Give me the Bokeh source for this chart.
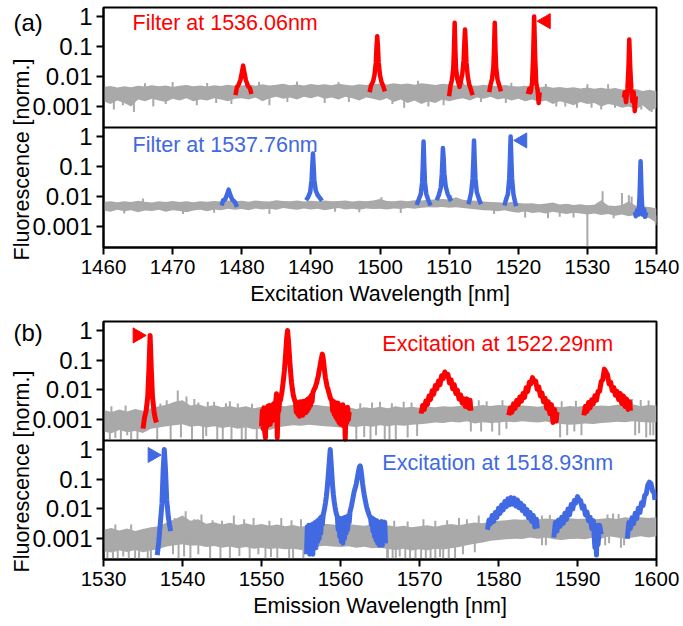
import numpy as np
from bokeh.plotting import figure
from bokeh.models import Range1d, LogScale, FixedTicker, CustomJSTickFormatter, Span, Label, GridBox
from bokeh.layouts import column
from bokeh.embed import file_html
from bokeh.resources import INLINE

GRAY = "#a9a9a9"
RED = "#ff0000"
BLUE = "#4169e1"
FONT = "Liberation Sans"
FS_XTICK = "20.5px"
FS_YTICK = "24px"
FS_TEXT = "21.5px"
FS_LETTER = "24px"

# ======================= panel (a): excitation spectra =======================
exc_ticks = [1460, 1470, 1480, 1490, 1500, 1510, 1520, 1530, 1540]
exc_grid = np.arange(1460, 1541)  # 1 nm sampling of the background envelope

# filter at 1536.06 nm (red) - background band
a1_hi = [0.0045, 0.0048, 0.0043, 0.0047, 0.0044,
         0.0049, 0.0046, 0.0051, 0.0047, 0.0050, 0.0045, 0.0049, 0.0052, 0.0047, 0.0050, 0.0046, 0.0051, 0.0048, 0.0053, 0.0049,
         0.0050, 0.0054, 0.0049, 0.0055, 0.0050, 0.0053, 0.0057, 0.0051, 0.0054, 0.0050, 0.0056, 0.0052, 0.0055, 0.0051, 0.0057, 0.0053, 0.0050, 0.0055, 0.0052,
         0.0055, 0.0058, 0.0054, 0.0060, 0.0055, 0.0058, 0.0053, 0.0059, 0.0056, 0.0052, 0.0057, 0.0054,
         0.0050, 0.0055, 0.0051, 0.0049, 0.0053, 0.0050, 0.0047, 0.0052, 0.0048, 0.0046,
         0.0049, 0.0045, 0.0043, 0.0047, 0.0042, 0.0045, 0.0041, 0.0044, 0.0040, 0.0043, 0.0039, 0.0042, 0.0038, 0.0041, 0.0037,
         0.0035, 0.0038, 0.0033, 0.0036, 0.0032]
a1_lo = [0.0015, 0.0012, 0.0016, 0.0013, 0.0010,
         0.0017, 0.0015, 0.0018, 0.0016, 0.0014, 0.0018, 0.0016, 0.0019, 0.0015, 0.0017, 0.0016, 0.0019, 0.0017, 0.0015, 0.0018,
         0.0019, 0.0017, 0.0020, 0.0015, 0.0019, 0.0021, 0.0018, 0.0020, 0.0017, 0.0021, 0.0019, 0.0022, 0.0018, 0.0020, 0.0017, 0.0021, 0.0019, 0.0016, 0.0020,
         0.0018, 0.0016, 0.0019, 0.0014, 0.0017, 0.0013, 0.0016, 0.0012, 0.0015, 0.0013, 0.0017, 0.0015,
         0.0017, 0.0019, 0.0016, 0.0020, 0.0018, 0.0021, 0.0017, 0.0019, 0.0016, 0.0018,
         0.0015, 0.0017, 0.0014, 0.0016, 0.0012, 0.0015, 0.0013, 0.0011, 0.0014, 0.0012, 0.0013, 0.0010, 0.0012, 0.0011, 0.0009,
         0.0010, 0.0008, 0.0011, 0.0007, 0.0009]
a1_spike_x = [1461.5, 1464.4, 1467.2, 1473.5, 1478.5, 1484.0, 1492.0, 1503.5, 1507.0, 1525.5, 1528.5, 1532.0, 1534.0, 1539.3,
              1462.8, 1469.0, 1476.3, 1486.6, 1495.5, 1501.8, 1509.2, 1514.6, 1518.2, 1526.8, 1530.6, 1537.8,
              1470.0, 1488.0, 1505.5, 1519.0, 1530.0, 1533.0, 1466.0, 1475.0, 1482.5, 1494.0, 1512.0, 1524.0]
a1_spike_y = [0.0008, 0.00066, 0.0010, 0.0011, 0.0012, 0.0011, 0.0013, 0.0009, 0.0010, 0.0010, 0.0009, 0.0008, 0.0009, 0.00065,
              0.0011, 0.0012, 0.0013, 0.0014, 0.0014, 0.0012, 0.0011, 0.0014, 0.0013, 0.0010, 0.0009, 0.0008,
              0.0065, 0.0068, 0.0072, 0.0062, 0.0055, 0.0055, 0.0060, 0.0061, 0.0065, 0.0066, 0.0062, 0.0056]
a1_peaks = [
    ([1479.1, 1479.3, 1479.5, 1479.8, 1480.0, 1480.2, 1480.4, 1480.6, 1480.9, 1481.2, 1481.4],
     [0.0024, 0.0045, 0.0050, 0.0075, 0.013, 0.023, 0.013, 0.0075, 0.0048, 0.0040, 0.0026]),
    ([1498.5, 1498.7, 1499.0, 1499.2, 1499.4, 1499.5, 1499.6, 1499.7, 1499.8, 1500.0, 1500.2, 1500.5, 1500.7],
     [0.0030, 0.0050, 0.0068, 0.011, 0.030, 0.10, 0.22, 0.10, 0.030, 0.011, 0.0068, 0.0045, 0.0032]),
    ([1510.0, 1510.2, 1510.4, 1510.6, 1510.7, 1510.8, 1510.9, 1511.0, 1511.2, 1511.5, 1511.7, 1511.9, 1512.1, 1512.2,
      1512.3, 1512.4, 1512.5, 1512.7, 1512.9, 1513.1, 1513.4],
     [0.0022, 0.0050, 0.0075, 0.018, 0.08, 0.62, 0.08, 0.018, 0.008, 0.0045, 0.0070, 0.012, 0.035, 0.12,
      0.37, 0.12, 0.030, 0.010, 0.0055, 0.0040, 0.0024]),
    ([1515.8, 1516.0, 1516.2, 1516.4, 1516.5, 1516.6, 1516.7, 1516.8, 1517.0, 1517.2, 1517.5],
     [0.0030, 0.0055, 0.0080, 0.02, 0.08, 0.62, 0.08, 0.02, 0.0080, 0.0055, 0.0032]),
    ([1521.4, 1521.6, 1521.8, 1522.0, 1522.15, 1522.3, 1522.45, 1522.6, 1522.8, 1522.95, 1523.1],
     [0.0026, 0.0040, 0.0030, 0.0060, 0.04, 1.0, 0.04, 0.0060, 0.0035, 0.0013, 0.0030]),
    ([1535.3, 1535.4, 1535.6, 1535.8, 1535.95, 1536.06, 1536.2, 1536.35, 1536.5, 1536.7, 1536.85, 1537.0],
     [0.0020, 0.0030, 0.0014, 0.0040, 0.02, 0.17, 0.02, 0.0040, 0.0015, 0.0030, 0.00070, 0.0022]),
]
a1_marker = (1524.0, 0.70)

# filter at 1537.76 nm (blue) - background band
a2_hi = [0.0066, 0.0070, 0.0064, 0.0069, 0.0065, 0.0072, 0.0067, 0.0063, 0.0070, 0.0066, 0.0071, 0.0065, 0.0069, 0.0064, 0.0070, 0.0067,
         0.0071, 0.0068, 0.0073, 0.0069, 0.0072, 0.0067, 0.0074, 0.0070, 0.0068, 0.0075, 0.0071, 0.0069, 0.0073, 0.0068, 0.0072, 0.0070,
         0.0074, 0.0069, 0.0071, 0.0073, 0.0068, 0.0072, 0.0070, 0.0074, 0.0082,
         0.0071, 0.0069, 0.0073, 0.0070, 0.0075, 0.0074, 0.0078, 0.0080, 0.0083, 0.0079, 0.0095, 0.0078, 0.0074, 0.0072, 0.0068,
         0.0066, 0.0064, 0.0062, 0.0065, 0.0061, 0.0058, 0.0060, 0.0055, 0.0058, 0.0063, 0.0054, 0.0057, 0.0052, 0.0055, 0.0051,
         0.0053, 0.0075, 0.0050, 0.0048, 0.0052, 0.0070, 0.0049, 0.0046, 0.0045, 0.0040]
a2_lo = [0.0034, 0.0031, 0.0036, 0.0032, 0.0035, 0.0030, 0.0034, 0.0033, 0.0036, 0.0031, 0.0035, 0.0033, 0.0030, 0.0034, 0.0036, 0.0032,
         0.0037, 0.0035, 0.0039, 0.0036, 0.0038, 0.0035, 0.0040, 0.0037, 0.0039, 0.0036, 0.0041, 0.0038, 0.0036, 0.0040, 0.0037, 0.0039,
         0.0035, 0.0038, 0.0041, 0.0037, 0.0039, 0.0036, 0.0040, 0.0038, 0.0039,
         0.0037, 0.0040, 0.0038, 0.0041, 0.0039, 0.0042, 0.0044, 0.0043, 0.0045, 0.0042, 0.0044, 0.0041, 0.0039, 0.0037, 0.0035,
         0.0034, 0.0032, 0.0035, 0.0031, 0.0029, 0.0032, 0.0028, 0.0030, 0.0027, 0.0031, 0.0028, 0.0026, 0.0029, 0.0027, 0.0025,
         0.0027, 0.0024, 0.0026, 0.0023, 0.0025, 0.0022, 0.0024, 0.0021, 0.0019, 0.0013]
a2_spike_x = [1530.0, 1532.2, 1535.0, 1536.0, 1536.4, 1500.2, 1510.3, 1465.7, 1484.0, 1503.0, 1521.0, 1524.3, 1539.9,
              1463.0, 1471.5, 1476.0, 1493.5, 1497.0, 1516.5, 1526.0, 1528.0, 1533.8]
a2_spike_y = [0.0001, 0.015, 0.013, 0.011, 0.010, 0.0095, 0.011, 0.0085, 0.0026, 0.0028, 0.0020, 0.0019, 0.0011,
              0.0027, 0.0026, 0.0029, 0.0031, 0.0030, 0.0026, 0.0021, 0.0020, 0.0019]
a2_peaks = [
    ([1477.1, 1477.3, 1477.6, 1477.9, 1478.1, 1478.3, 1478.6, 1478.9, 1479.1, 1479.3],
     [0.0050, 0.0075, 0.0080, 0.012, 0.017, 0.012, 0.0080, 0.0070, 0.0060, 0.0045]),
    ([1489.3, 1489.6, 1489.9, 1490.1, 1490.2, 1490.3, 1490.4, 1490.5, 1490.7, 1491.0, 1491.3, 1491.6],
     [0.0075, 0.0095, 0.014, 0.035, 0.10, 0.27, 0.10, 0.035, 0.016, 0.011, 0.0090, 0.0072]),
    ([1505.3, 1505.6, 1505.9, 1506.1, 1506.2, 1506.3, 1506.4, 1506.5, 1506.7, 1507.0, 1507.3],
     [0.0052, 0.0080, 0.012, 0.03, 0.12, 0.68, 0.12, 0.03, 0.012, 0.0075, 0.0050]),
    ([1508.2, 1508.5, 1508.8, 1508.95, 1509.05, 1509.1, 1509.2, 1509.3, 1509.5, 1509.8, 1510.1, 1510.3],
     [0.0075, 0.011, 0.02, 0.06, 0.20, 0.41, 0.20, 0.06, 0.022, 0.012, 0.0085, 0.0070]),
    ([1512.8, 1513.0, 1513.2, 1513.4, 1513.5, 1513.6, 1513.7, 1513.8, 1514.0, 1514.3, 1514.6],
     [0.0055, 0.0085, 0.014, 0.04, 0.15, 0.74, 0.15, 0.04, 0.014, 0.0085, 0.0055]),
    ([1518.0, 1518.2, 1518.5, 1518.7, 1518.8, 1518.9, 1519.0, 1519.1, 1519.3, 1519.5, 1519.7],
     [0.0050, 0.0075, 0.012, 0.04, 0.18, 1.0, 0.18, 0.04, 0.012, 0.0072, 0.0048]),
    ([1536.9, 1537.0, 1537.2, 1537.4, 1537.55, 1537.7, 1537.85, 1538.0, 1538.2, 1538.35, 1538.5],
     [0.0030, 0.0022, 0.0035, 0.0025, 0.01, 0.15, 0.01, 0.0025, 0.0038, 0.0021, 0.0030]),
]
a2_marker = (1520.6, 0.74)

# ======================= panel (b): emission spectra =======================
emi_ticks = [1530, 1540, 1550, 1560, 1570, 1580, 1590, 1600]
emi_grid = np.arange(1530, 1601)

# excitation at 1522.29 nm (red)
b1_hi = [0.0021, 0.0018, 0.0022, 0.0019, 0.0023, 0.0020, 0.0024, 0.0028, 0.0032, 0.0040,
         0.0045, 0.0030, 0.0033, 0.0027, 0.0031, 0.0026, 0.0029, 0.0025, 0.0028, 0.0024,
         0.0027, 0.0025, 0.0030, 0.0028, 0.0032, 0.0030, 0.0033, 0.0031, 0.0029, 0.0027,
         0.0024, 0.0026, 0.0023, 0.0026, 0.0024, 0.0027, 0.0024, 0.0028, 0.0025, 0.0027,
         0.0025, 0.0027, 0.0026, 0.0028, 0.0027, 0.0029, 0.0030, 0.0028, 0.0031, 0.0029,
         0.0031, 0.0030, 0.0028, 0.0030, 0.0029, 0.0027, 0.0030, 0.0028, 0.0026, 0.0029,
         0.0027, 0.0030, 0.0028, 0.0030, 0.0029, 0.0032, 0.0030, 0.0033, 0.0028, 0.0031,
         0.0030]
b1_lo = [0.00040, 0.00035, 0.00045, 0.00038, 0.00042, 0.00036, 0.00050, 0.00055, 0.00060, 0.00065,
         0.00070, 0.00058, 0.00062, 0.00055, 0.00060, 0.00052, 0.00058, 0.00050, 0.00056, 0.00048,
         0.00050, 0.00045, 0.00055, 0.00060, 0.00065, 0.00062, 0.00068, 0.00064, 0.00060, 0.00058,
         0.00055, 0.00060, 0.00057, 0.00062, 0.00058, 0.00065, 0.00060, 0.00066, 0.00062, 0.00068,
         0.00070, 0.00075, 0.00080, 0.00078, 0.00085, 0.00080, 0.00088, 0.00075, 0.00082, 0.00078,
         0.00080, 0.00085, 0.00082, 0.00088, 0.00084, 0.00080, 0.00086, 0.00078, 0.00072, 0.00068,
         0.00070, 0.00075, 0.00072, 0.00078, 0.00080, 0.00085, 0.00082, 0.00088, 0.00084, 0.00080,
         0.00082]
b1_spike_x = [1530.8, 1532.2, 1533.5, 1534.3, 1538.5, 1541.2, 1542.6, 1544.4, 1545.1, 1546.2, 1548.0, 1549.4,
              1562.0, 1563.8, 1565.6, 1567.0, 1576.5, 1579.2, 1580.1, 1587.8, 1588.7, 1597.3, 1598.7, 1599.6,
              1531.5, 1533.0, 1536.8, 1539.8, 1543.0, 1547.5, 1563.0, 1564.5, 1566.2, 1568.5, 1569.7, 1577.8,
              1581.0, 1589.6, 1590.5, 1597.8, 1599.2,
              1538.0, 1539.4, 1540.5, 1541.5, 1544.0, 1546.0, 1565.0, 1569.0, 1577.5, 1596.9,
              1531.0, 1532.8, 1537.2, 1542.0, 1543.2, 1545.5, 1547.0, 1548.8, 1562.5, 1564.0, 1566.5, 1568.0,
              1578.5, 1580.5, 1588.0, 1589.8, 1598.0, 1599.0]
b1_spike_y = [0.00022, 0.00022, 0.00022, 0.00022, 0.00022, 0.00022, 0.00022, 0.00022, 0.00022, 0.00022, 0.00022, 0.00022,
              0.00022, 0.00022, 0.00022, 0.00022, 0.0004, 0.0004, 0.0003, 0.00025, 0.0003, 0.0003, 0.00025, 0.0003,
              0.00024, 0.0003, 0.00022, 0.00025, 0.00028, 0.00022, 0.00026, 0.0003, 0.00022, 0.00025, 0.00028, 0.0004,
              0.0005, 0.0004, 0.0003, 0.00035, 0.0003,
              0.0045, 0.0095, 0.0060, 0.0050, 0.0040, 0.0042, 0.0040, 0.0038, 0.0045, 0.0050,
              0.0028, 0.0030, 0.0035, 0.0038, 0.0040, 0.0036, 0.0035, 0.0034, 0.0036, 0.0038, 0.0036, 0.0040,
              0.0042, 0.0045, 0.0042, 0.0043, 0.0046, 0.0044]
b1_peaks = [
    ([1535.0, 1535.2, 1535.4, 1535.6, 1535.75, 1535.9, 1536.05, 1536.2, 1536.4, 1536.55, 1536.7],
     [0.0005, 0.0012, 0.0020, 0.006, 0.05, 0.68, 0.05, 0.006, 0.0018, 0.0011, 0.0008]),
    (np.linspace(1550.0, 1561.1, 112),
     [0.0006, 0.0020, 0.0005, 0.0025, 0.0004, 0.00025, 0.0022, 0.0006, 0.0028, 0.0008, 0.0030, 0.0007, 0.0026, 0.0009,
      0.0032, 0.0010, 0.0035, 0.0012, 0.0040, 0.0074, 0.00025, 0.0038,
      0.0020, 0.0048, 0.0045, 0.0065, 0.0090, 0.015, 0.025, 0.045, 0.10, 0.25, 0.60, 1.0, 0.50, 0.20, 0.08, 0.035,
      0.018, 0.011, 0.0075, 0.0055, 0.0045, 0.0040,
      0.0018, 0.0038, 0.0015, 0.0036, 0.0013, 0.0040, 0.0016, 0.0037, 0.0014, 0.0042, 0.0018, 0.0040, 0.0017, 0.0045,
      0.0020, 0.0050, 0.0024, 0.0055, 0.0030, 0.0065, 0.0040, 0.0080,
      0.0095, 0.011, 0.012, 0.015, 0.018, 0.024, 0.030, 0.045, 0.06, 0.09, 0.12, 0.16, 0.12, 0.07, 0.04, 0.025,
      0.018, 0.013, 0.011, 0.0085, 0.0070, 0.0055,
      0.0048, 0.0045, 0.0020, 0.0042, 0.0015, 0.0038, 0.0012, 0.0035, 0.0010, 0.0036, 0.0008, 0.0030, 0.0007, 0.0028,
      0.0009, 0.0032, 0.0006, 0.0025, 0.00022, 0.0022, 0.0008, 0.0026, 0.0010, 0.0018]),
    ([1570.2, 1570.4, 1570.6, 1570.8, 1571.0, 1571.2, 1571.4, 1571.6, 1571.8, 1572.0, 1572.2, 1572.4, 1572.6, 1572.8,
      1573.0, 1573.2, 1573.4, 1573.6, 1573.8, 1574.0, 1574.2, 1574.4, 1574.6, 1574.8, 1575.0, 1575.2, 1575.4, 1575.6,
      1575.8, 1576.0, 1576.2, 1576.4, 1576.5],
     [0.0016, 0.0030, 0.0022, 0.0042, 0.0032, 0.0062, 0.0048, 0.0093, 0.0072, 0.014, 0.011, 0.020, 0.015, 0.030,
      0.024, 0.040, 0.030, 0.033, 0.017, 0.022, 0.011, 0.015, 0.0076, 0.0098, 0.0050, 0.0068, 0.0036, 0.0050,
      0.0028, 0.0050, 0.0025, 0.0045, 0.0020]),
    ([1581.3, 1581.5, 1581.7, 1581.9, 1582.1, 1582.3, 1582.5, 1582.7, 1582.9, 1583.1, 1583.3, 1583.5, 1583.7, 1583.9,
      1584.1, 1584.3, 1584.5, 1584.7, 1584.9, 1585.1, 1585.3, 1585.5, 1585.7, 1585.9, 1586.1, 1586.3, 1586.5, 1586.7,
      1586.9, 1587.1, 1587.3, 1587.4],
     [0.0014, 0.0025, 0.0018, 0.0034, 0.0024, 0.0044, 0.0032, 0.0058, 0.0042, 0.0076, 0.0056, 0.0117, 0.0089, 0.018,
      0.016, 0.026, 0.019, 0.020, 0.0105, 0.0126, 0.0063, 0.0079, 0.0040, 0.0052, 0.0024, 0.0040, 0.0016, 0.0032,
      0.0008, 0.0022, 0.0009, 0.0018]),
    ([1590.8, 1591.0, 1591.2, 1591.4, 1591.6, 1591.8, 1592.0, 1592.2, 1592.4, 1592.6, 1592.8, 1593.0, 1593.2, 1593.4,
      1593.6, 1593.8, 1594.0, 1594.2, 1594.4, 1594.6, 1594.8, 1595.0, 1595.2, 1595.4, 1595.6, 1595.8, 1596.0, 1596.2,
      1596.4, 1596.6, 1596.7],
     [0.0014, 0.0028, 0.0019, 0.0038, 0.0025, 0.0047, 0.0034, 0.0063, 0.0045, 0.0089, 0.0089, 0.019, 0.022, 0.050,
      0.040, 0.032, 0.016, 0.018, 0.0095, 0.012, 0.0066, 0.0089, 0.0048, 0.0076, 0.0035, 0.0063, 0.0028, 0.0050,
      0.0022, 0.0040, 0.0020]),
]
b1_marker = (1534.3, 0.68)

# excitation at 1518.93 nm (blue)
b2_hi = [0.0020, 0.0023, 0.0019, 0.0022, 0.0018, 0.0021, 0.0024, 0.0026, 0.0035, 0.0045,
         0.0060, 0.0040, 0.0045, 0.0032, 0.0036, 0.0030, 0.0034, 0.0029, 0.0033, 0.0028,
         0.0031, 0.0027, 0.0030, 0.0026, 0.0029, 0.0025, 0.0028, 0.0030, 0.0032, 0.0030,
         0.0028, 0.0031, 0.0029, 0.0027, 0.0030, 0.0026, 0.0028, 0.0025, 0.0027, 0.0024,
         0.0026, 0.0028, 0.0025, 0.0029, 0.0031, 0.0028, 0.0032, 0.0035, 0.0033, 0.0038,
         0.0040, 0.0042, 0.0045, 0.0043, 0.0046, 0.0044, 0.0048, 0.0045, 0.0047, 0.0049,
         0.0046, 0.0048, 0.0044, 0.0047, 0.0050, 0.0046, 0.0052, 0.0049, 0.0053, 0.0050,
         0.0052]
b2_lo = [0.00038, 0.00034, 0.00040, 0.00036, 0.00042, 0.00035, 0.00040, 0.00045, 0.00055, 0.00060,
         0.00065, 0.00058, 0.00060, 0.00052, 0.00057, 0.00050, 0.00055, 0.00048, 0.00053, 0.00046,
         0.00050, 0.00045, 0.00048, 0.00044, 0.00046, 0.00042, 0.00050, 0.00055, 0.00058, 0.00055,
         0.00052, 0.00056, 0.00050, 0.00054, 0.00048, 0.00050, 0.00045, 0.00042, 0.00046, 0.00040,
         0.00044, 0.00041, 0.00046, 0.00043, 0.00048, 0.00052, 0.00060, 0.00068, 0.00075, 0.00085,
         0.00090, 0.00095, 0.0010, 0.00098, 0.0011, 0.0010, 0.0011, 0.00095, 0.00090, 0.00098,
         0.0010, 0.00095, 0.0011, 0.0010, 0.0012, 0.0011, 0.0010, 0.0011, 0.0012, 0.0011,
         0.0012]
b2_spike_x = [1530.5, 1531.8, 1533.2, 1534.5, 1535.6, 1539.5, 1541.0, 1543.5, 1546.0, 1548.5, 1550.5, 1552.0, 1553.5,
              1566.0, 1567.0, 1568.2, 1569.5, 1570.8, 1572.0, 1573.0, 1574.5, 1585.5, 1594.0, 1595.5,
              1531.2, 1532.5, 1534.0, 1536.0, 1538.8, 1540.2, 1542.0, 1544.8, 1547.2, 1549.6, 1551.2, 1554.0, 1555.3,
              1565.9, 1566.6, 1567.5, 1568.8, 1570.2, 1571.4, 1572.6, 1573.7, 1575.5, 1577.0, 1586.0, 1593.5, 1595.9,
              1540.4, 1542.4, 1546.5, 1549.0, 1552.5, 1555.0, 1570.5, 1575.0, 1577.5, 1594.5,
              1531.5, 1533.5, 1539.0, 1541.5, 1543.8, 1545.0, 1547.8, 1551.0, 1553.8, 1566.8, 1568.5, 1572.0,
              1573.5, 1576.0, 1585.5, 1586.5, 1593.8, 1595.2]
b2_spike_y = [0.00015, 0.00015, 0.00015, 0.00015, 0.00015, 0.00018, 0.00018, 0.00018, 0.00018, 0.00018, 0.00018, 0.00018, 0.00018,
              0.00015, 0.00015, 0.00015, 0.00015, 0.00015, 0.00015, 0.00015, 0.00015, 0.0006, 0.0007, 0.0005,
              0.0002, 0.00025, 0.0002, 0.00022, 0.0003, 0.00025, 0.0003, 0.00022, 0.00026, 0.0003, 0.00024, 0.00022, 0.0002,
              0.00022, 0.0002, 0.00025, 0.0002, 0.00022, 0.0002, 0.00024, 0.0002, 0.0003, 0.00035, 0.0006, 0.0006, 0.0006,
              0.0084, 0.0065, 0.0060, 0.0050, 0.0050, 0.0045, 0.0045, 0.0050, 0.0060, 0.0070,
              0.0030, 0.0030, 0.0050, 0.0045, 0.0042, 0.0040, 0.0045, 0.0040, 0.0042, 0.0040, 0.0038, 0.0040,
              0.0042, 0.0045, 0.0060, 0.0062, 0.0065, 0.0068]
b2_peaks = [
    ([1536.8, 1537.0, 1537.2, 1537.4, 1537.55, 1537.7, 1537.85, 1538.0, 1538.2, 1538.35, 1538.5],
     [0.00028, 0.0008, 0.0035, 0.015, 0.2, 1.0, 0.2, 0.02, 0.0055, 0.0030, 0.0018]),
    (np.linspace(1555.7, 1565.7, 101),
     [0.0003, 0.0025, 0.0004, 0.0028, 0.0003, 0.0026, 0.0005, 0.0030, 0.0003, 0.0032, 0.0006, 0.0035, 0.0005, 0.0038,
      0.0008, 0.0042, 0.0010, 0.0048, 0.0015, 0.0055, 0.0030,
      0.0060, 0.0080, 0.011, 0.016, 0.025, 0.045, 0.09, 0.20, 0.45, 1.0, 0.40, 0.15, 0.06, 0.03, 0.018, 0.012,
      0.0085, 0.0065, 0.0055, 0.0020,
      0.0050, 0.0012, 0.0048, 0.0008, 0.0046, 0.0007, 0.0050, 0.0010, 0.0052, 0.0015, 0.0055, 0.0020, 0.0060, 0.0035,
      0.0080, 0.010, 0.013, 0.018, 0.025, 0.035,
      0.045, 0.055, 0.07, 0.10, 0.14, 0.20, 0.26, 0.28, 0.20, 0.12, 0.07, 0.045, 0.030, 0.022, 0.016, 0.012,
      0.0095, 0.0080, 0.0065, 0.0055,
      0.0050, 0.0030, 0.0050, 0.0018, 0.0046, 0.0012, 0.0042, 0.0009, 0.0040, 0.0007, 0.0036, 0.0006, 0.0035, 0.0007,
      0.0038, 0.0006, 0.0034, 0.0008, 0.0036, 0.0007]),
    ([1578.6, 1578.8, 1579.0, 1579.2, 1579.4, 1579.6, 1579.8, 1580.0, 1580.2, 1580.4, 1580.6, 1580.8, 1581.0, 1581.2,
      1581.4, 1581.6, 1581.8, 1582.0, 1582.2, 1582.4, 1582.6, 1582.8, 1583.0, 1583.2, 1583.4, 1583.6, 1583.8, 1584.0,
      1584.2, 1584.4, 1584.6, 1584.8, 1584.9],
     [0.0020, 0.0042, 0.0032, 0.0060, 0.0038, 0.0076, 0.0052, 0.0105, 0.0071, 0.0135, 0.0093, 0.0178, 0.012, 0.022,
      0.0138, 0.024, 0.0145, 0.023, 0.0126, 0.020, 0.011, 0.0158, 0.0089, 0.0126, 0.0068, 0.0095, 0.0050, 0.0076,
      0.0038, 0.0060, 0.0025, 0.0045, 0.0022]),
    ([1587.0, 1587.2, 1587.4, 1587.6, 1587.8, 1588.0, 1588.2, 1588.4, 1588.6, 1588.8, 1589.0, 1589.2, 1589.4, 1589.6,
      1589.8, 1590.0, 1590.2, 1590.4, 1590.6, 1590.8, 1591.0, 1591.2, 1591.4, 1591.6, 1591.8, 1592.0, 1592.2, 1592.3,
      1592.4, 1592.5, 1592.6, 1592.8, 1593.0],
     [0.0011, 0.0035, 0.0018, 0.0042, 0.0026, 0.0052, 0.0033, 0.0071, 0.0044, 0.010, 0.0063, 0.014, 0.010, 0.019,
      0.016, 0.026, 0.020, 0.019, 0.0105, 0.0126, 0.0063, 0.0079, 0.0040, 0.0052, 0.0022, 0.0040, 0.0005, 0.0025,
      0.00028, 0.0028, 0.00063, 0.0028, 0.0014]),
    ([1596.3, 1596.5, 1596.7, 1596.9, 1597.1, 1597.3, 1597.5, 1597.7, 1597.9, 1598.1, 1598.3, 1598.5, 1598.7, 1598.9,
      1599.1, 1599.3, 1599.5, 1599.7, 1599.8],
     [0.0010, 0.0035, 0.0022, 0.0050, 0.0032, 0.0071, 0.0047, 0.0105, 0.0076, 0.016, 0.0132, 0.028, 0.032, 0.063,
      0.079, 0.071, 0.040, 0.035, 0.020]),
]
b2_marker = (1536.2, 0.65)

Y_TICKS = [1e-7, 1e-6, 1e-5, 1e-4, 1e-3, 1e-2, 1e-1, 1.0]
TICK_JS = """
const e = Math.round(Math.log10(tick));
const v = e < -3 ? e + 4 : e;
const m = {"-3": "0.001", "-2": "0.01", "-1": "0.1", "0": "1"};
return m[String(v)];
"""


def make_panel(xr, ticks, xlabel, frame_h, b_top, b_bottom):
    p = figure(frame_width=553, frame_height=frame_h,
               x_range=Range1d(*xr), y_range=Range1d(10 ** -7.7, 10 ** 0.3),
               y_axis_type="log", output_backend="svg", toolbar_location=None,
               min_border_left=103, min_border_right=27,
               min_border_top=b_top, min_border_bottom=b_bottom)
    p.extra_y_ranges = {"bot": Range1d(10 ** -3.7, 10 ** 4.3)}
    p.extra_y_scales = {"bot": LogScale()}
    p.xgrid.visible = False
    p.ygrid.visible = False
    p.background_fill_color = "white"
    p.border_fill_color = "white"
    p.outline_line_color = "black"
    p.outline_line_width = 2
    p.outline_line_alpha = 1.0
    p.xaxis.ticker = FixedTicker(ticks=ticks)
    p.yaxis.ticker = FixedTicker(ticks=Y_TICKS)
    p.yaxis.formatter = CustomJSTickFormatter(code=TICK_JS)
    for ax in (p.xaxis, p.yaxis):
        ax.axis_line_width = 2
        ax.axis_line_color = "black"
        ax.major_tick_line_width = 2
        ax.major_tick_line_color = "black"
        ax.major_tick_out = 7
        ax.major_tick_in = 0
        ax.minor_tick_line_color = None
        ax.major_label_text_font = FONT
        ax.major_label_text_color = "black"
        ax.axis_label_text_font = FONT
        ax.axis_label_text_font_size = FS_TEXT
        ax.axis_label_text_font_style = "normal"
        ax.axis_label_text_color = "black"
    p.xaxis.major_label_text_font_size = FS_XTICK
    p.yaxis.major_label_text_font_size = FS_YTICK
    p.yaxis.major_label_standoff = 4
    p.xaxis.axis_label = xlabel
    p.add_layout(Span(location=10 ** -3.7, dimension="width", line_color="black", line_width=2))
    return p


def add_trace(p, grid, hi, lo, sx, sy, peaks, color, lw, rng=None):
    kw = {} if rng is None else {"y_range_name": rng}
    p.varea(x=grid, y1=lo, y2=hi, fill_color=GRAY, fill_alpha=1.0, **kw)
    hi_a = np.asarray(hi)
    lo_a = np.asarray(lo)
    start = np.sqrt(np.interp(sx, grid, hi_a) * np.interp(sx, grid, lo_a))
    p.segment(x0=sx, y0=start, x1=sx, y1=sy, line_color=GRAY, line_width=2, **kw)
    for px, py in peaks:
        p.line(x=list(px), y=py, line_color=color, line_width=lw, line_join="round", **kw)


def add_marker(p, xy, color, angle, rng=None):
    kw = {} if rng is None else {"y_range_name": rng}
    p.scatter(x=[xy[0]], y=[xy[1]], marker="triangle", size=15, angle=angle,
              fill_color=color, line_color=color, **kw)


def add_text(p, x, y, text, color, rng=None, angle=0.0, align="left", size=FS_TEXT):
    kw = {} if rng is None else {"y_range_name": rng}
    p.add_layout(Label(x=x, y=y, text=text, text_font=FONT, text_font_size=size, text_color=color,
                       text_baseline="middle", text_align=align, angle=angle, **kw))


# ---- panel (a)
pa = make_panel((1460, 1540), exc_ticks, "Excitation Wavelength [nm]", 240, 7, 64)
add_trace(pa, exc_grid, a1_hi, a1_lo, a1_spike_x, a1_spike_y, a1_peaks, RED, 4.5)
add_trace(pa, exc_grid, a2_hi, a2_lo, a2_spike_x, a2_spike_y, a2_peaks, BLUE, 4.5, "bot")
add_marker(pa, a1_marker, RED, np.pi / 2)
add_marker(pa, a2_marker, BLUE, np.pi / 2, "bot")
add_text(pa, 1464.2, 10 ** -0.2, "Filter at 1536.06nm", RED)
add_text(pa, 1464.2, 10 ** -0.267, "Filter at 1537.76nm", BLUE, "bot")

# ---- panel (b)
pb = make_panel((1530, 1600), emi_ticks, "Emission Wavelength [nm]", 238, 10, 67)
add_trace(pb, emi_grid, b1_hi, b1_lo, b1_spike_x, b1_spike_y, b1_peaks, RED, 5)
add_trace(pb, emi_grid, b2_hi, b2_lo, b2_spike_x, b2_spike_y, b2_peaks, BLUE, 5, "bot")
add_marker(pb, b1_marker, RED, -np.pi / 2)
add_marker(pb, b2_marker, BLUE, -np.pi / 2, "bot")
add_text(pb, 1565.3, 10 ** -0.44, "Excitation at 1522.29nm", RED)
add_text(pb, 1565.3, 10 ** -0.473, "Excitation at 1518.93nm", BLUE, "bot")

main = column(pa, pb, spacing=0)

# ---- transparent overlay carrying panel letters and the shared y titles (pixel coordinates)
ov = figure(width=683, height=626, x_range=Range1d(0, 683), y_range=Range1d(626, 0),
            x_axis_location=None, y_axis_location=None, output_backend="svg", toolbar_location=None,
            min_border=0, min_border_left=0, min_border_right=0, min_border_top=0, min_border_bottom=0)
ov.outline_line_color = None
ov.xgrid.visible = False
ov.ygrid.visible = False
ov.background_fill_color = None
ov.border_fill_color = None
add_text(ov, 13, 22, "(a)", "black", size=FS_LETTER)
add_text(ov, 13, 332, "(b)", "black", size=FS_LETTER)
add_text(ov, 21, 159, "Fluorescence [norm.]", "black", angle=np.pi / 2, align="center")
add_text(ov, 21, 471, "Fluorescence [norm.]", "black", angle=np.pi / 2, align="center")

layout = GridBox(children=[(main, 0, 0), (ov, 0, 0)])
open("out.html", "w").write(file_html(layout, INLINE))
